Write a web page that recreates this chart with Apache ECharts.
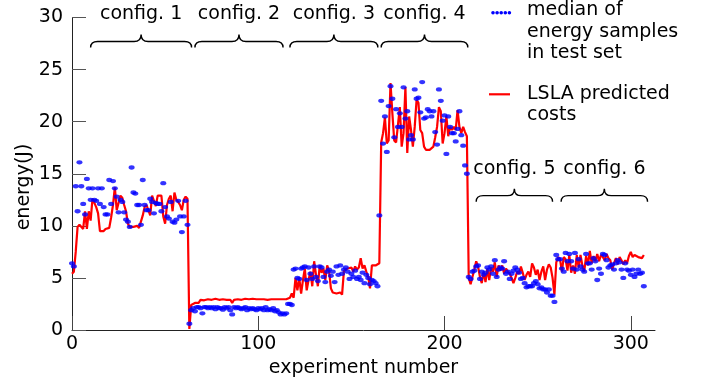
<!DOCTYPE html>
<html>
<head>
<meta charset="utf-8">
<script src="https://cdn.jsdelivr.net/npm/echarts@6/dist/echarts.min.js"></script>
<style>html,body{margin:0;padding:0;background:#fff}#c{width:702px;height:380px}</style>
</head>
<body>
<div id="c"></div>
<script>
// ---- data ----
const configLabels = ['config. 1', 'config. 2', 'config. 3', 'config. 4', 'config. 5', 'config. 6'];
const configStartIndex = [0, 64, 119, 166, 213, 260];
const braceStart = [10, 66, 117, 166, 217, 262.6];
const braceEnd = [64.2, 113.3, 164.2, 212.5, 258, 309];
const braceLevel = [27.7, 27.7, 27.7, 27.7, 12.9, 12.9];

const predictedCfg1 = [5.4,5.6,7.5,9.9,10.1,10.0,9.7,11.4,9.7,11.4,10.5,12.6,12.5,11.8,11.2,9.5,9.6,9.5,9.7,9.6,9.8,10.8,12.0,13.7,11.5,12.2,12.9,12.7,12.0,11.4,10.2,9.9,9.9,9.9,9.8,10.0,9.8,9.7,11.0,11.8,12.0,11.5,11.0,12.9,12.4,11.9,12.9,12.8,12.9,10.9,10.2,12.0,12.6,12.9,11.4,13.2,12.5,12.3,12.0,11.5,12.5,12.8,12.6,0.1];
const predictedCfg2 = [2.4,2.5,2.6,2.7,2.6,2.9,2.9,2.85,2.9,2.95,2.9,2.9,2.95,3.0,2.95,2.9,2.95,2.95,2.9,2.9,2.95,2.9,2.6,2.9,2.95,2.95,2.95,2.9,2.95,3.0,2.95,2.95,2.9,3.0,2.95,2.95,3.0,2.95,2.95,2.95,2.95,2.9,2.95,2.95,2.95,2.95,2.95,2.95,2.9,2.95,2.95,2.95,3.0,3.1,3.5];
const predictedCfg3 = [3.1,5.0,3.8,5.0,3.5,4.8,5.9,3.8,4.8,5.6,4.2,6.6,5.3,4.2,6.2,5.5,5.9,4.8,6.2,5.7,4.0,3.6,3.5,3.5,3.5,3.6,3.4,5.7,5.6,5.9,5.8,6.0,5.6,6.1,5.8,6.0,6.9,5.9,6.2,5.6,5.1,4.0,6.2,6.1,6.2,6.3,6.4];
const predictedCfg4 = [18.0,18.9,20.4,17.9,18.2,23.7,20.8,18.2,18.0,17.9,21.4,17.6,18.9,23.3,17.0,20.5,19.2,17.6,19.5,22.1,21.8,19.2,18.9,17.6,17.3,17.2,17.3,17.4,17.6,18.5,19.5,21.4,21.0,17.9,18.9,20.5,18.6,19.5,19.2,19.5,19.2,21.1,19.5,18.9,19.5,19.0,18.6];
const predictedCfg5 = [5.0,4.4,4.5,5.8,6.6,6.1,5.1,4.5,5.6,4.6,5.9,4.8,6.0,5.6,6.5,5.1,6.2,5.7,6.2,5.4,5.9,5.6,5.4,5.0,4.5,5.0,5.6,5.4,6.1,5.5,4.8,5.3,5.6,5.1,6.4,6.0,5.3,5.8,4.8,5.6,6.1,4.8,5.8,6.3,6.0,5.0,3.4];
const predictedCfg6 = [6.5,7.0,6.8,5.6,7.0,6.8,5.7,7.2,5.5,6.2,5.4,7.2,6.0,7.2,6.2,5.6,7.1,6.2,7.6,6.4,7.1,6.6,7.3,6.6,7.2,7.0,6.7,7.3,6.9,6.7,5.8,6.4,6.9,6.3,7.0,6.7,6.3,6.7,6.4,7.1,7.5,7.0,7.2,7.3,7.0,7.1,6.9,7.2];

const medianCfg1 = [6.4,6.1,13.8,11.4,16.1,13.8,12.1,11.1,14.5,13.6,12.5,13.6,12.5,12.4,13.6,12.1,13.6,11.8,11.1,11.1,14.4,12.1,14.3,13.6,12.8,11.3,12.5,12.3,11.3,10.6,10.4,9.9,15.6,13.2,13.1,12.0,12.0,10.1,14.4,12.0,11.5,11.5,12.6,12.3,11.2,12.2,12.1,12.1,11.4,14.1,11.8,10.9,10.7,12.3,10.4,10.3,10.6,12.4,10.9,9.4,10.9,12.4,10.1,0.6];
const medianCfg2 = [1.9,2.1,1.8,2.2,2.2,2.1,1.6,2.2,2.2,2.1,2.2,2.1,2.2,2.0,2.2,2.1,2.1,1.95,2.2,2.1,2.2,1.9,1.5,2.2,2.1,2.2,2.1,2.0,2.1,2.2,1.9,2.1,2.0,2.1,2.0,1.9,2.1,2.0,2.1,1.9,2.2,1.9,2.0,1.9,2.1,1.8,1.9,1.7,1.5,1.6,1.5,1.6,2.5,2.5,2.4];
const medianCfg3 = [5.8,5.9,5.0,4.9,5.9,6.0,6.1,4.8,6.0,5.4,4.9,6.1,5.1,4.7,6.1,6.0,5.1,4.6,5.6,5.8,5.2,5.6,4.6,6.1,5.3,6.2,5.4,5.8,6.0,5.6,4.9,5.4,5.1,5.7,4.9,5.1,4.8,5.5,4.5,5.3,5.0,4.4,4.8,4.7,4.5,4.2,11.0];
const medianCfg4 = [22.0,17.9,20.5,17.1,21.5,23.4,22.2,18.5,21.2,19.5,20.8,19.5,23.3,20.3,21.0,18.3,18.7,18.3,23.1,22.2,22.3,20.9,23.8,20.3,20.4,21.2,21.0,20.5,21.0,19.0,17.8,23.1,22.0,20.1,20.6,16.9,20.5,19.5,18.9,18.9,18.1,19.3,21.0,18.7,17.7,15.8,15.0];
const medianCfg5 = [5.1,4.9,5.6,5.7,6.1,6.2,4.9,5.6,5.3,5.5,6.0,5.8,6.1,5.4,6.7,5.1,5.8,6.0,5.9,6.6,5.4,5.6,4.9,5.4,5.7,6.0,5.8,5.5,4.9,5.0,4.5,4.1,4.2,4.2,4.2,4.5,4.7,4.4,4.0,4.1,3.9,3.9,3.6,3.9,3.3,3.3,2.7];
const medianCfg6 = [7.2,6.8,6.8,5.9,5.6,7.4,6.6,7.3,6.6,5.9,7.4,5.8,6.8,6.1,5.8,5.6,7.3,6.4,6.4,5.8,6.9,6.6,4.8,5.9,5.4,7.3,7.2,6.7,6.0,6.2,6.3,5.8,6.4,6.7,6.5,5.8,5.0,6.4,5.8,5.7,5.3,5.8,5.1,5.4,5.8,5.4,5.5,4.2];

const xTickValues = [0, 100, 200, 300];
const yTickValues = [0, 5, 10, 15, 20, 25, 30];

// ---- build ----
const predictedGroups = [predictedCfg1, predictedCfg2, predictedCfg3, predictedCfg4, predictedCfg5, predictedCfg6];
const medianGroups = [medianCfg1, medianCfg2, medianCfg3, medianCfg4, medianCfg5, medianCfg6];
function toPairs(groups) {
  const out = [];
  groups.forEach((g, k) => g.forEach((v, i) => out.push([configStartIndex[k] + i, v])));
  return out;
}
const predictedData = toPairs(predictedGroups);
const medianData = toPairs(medianGroups);
const braceData = braceStart.map((s, i) => [s, braceEnd[i], braceLevel[i]]);

const FONT = 'DejaVu Sans';
const chart = echarts.init(document.getElementById('c'), null, {renderer: 'canvas'});
chart.setOption({
  animation: false,
  backgroundColor: '#fff',
  grid: {left: 72, right: 47, top: 17.5, bottom: 50, containLabel: false, outerBoundsMode: 'none'},
  xAxis: {
    type: 'value', min: 0, max: 313, interval: 100,
    name: 'experiment number', nameLocation: 'middle', nameGap: 25,
    nameTextStyle: {fontFamily: FONT, fontSize: 19, color: '#000'},
    axisLine: {show: true, onZero: false, lineStyle: {color: '#222', width: 1}},
    axisTick: {show: true, inside: true, length: 14, lineStyle: {color: '#444', width: 1}, customValues: xTickValues},
    axisLabel: {fontFamily: FONT, fontSize: 19, color: '#000', margin: 5, customValues: xTickValues},
    splitLine: {show: false}
  },
  yAxis: {
    type: 'value', min: 0, max: 30, interval: 5,
    axisLine: {show: true, onZero: false, lineStyle: {color: '#222', width: 1}},
    axisTick: {show: true, inside: true, length: 14, lineStyle: {color: '#555', width: 1}, customValues: yTickValues},
    axisLabel: {fontFamily: FONT, fontSize: 19, color: '#000', margin: 9, customValues: yTickValues},
    splitLine: {show: false}
  },
  graphic: [
    {type: 'text', x: 24, y: 187, rotation: Math.PI / 2,
     style: {text: 'energy(J)', font: '19px "DejaVu Sans"', fill: '#000', align: 'center', verticalAlign: 'middle'}},
    {type: 'group', children: [0, 1, 2, 3, 4].map(i => ({
      type: 'circle', shape: {cx: 493 + i * 4.1, cy: 12.7, r: 1.8}, style: {fill: '#0000ff'}
    }))},
    {type: 'line', shape: {x1: 489, y1: 94.3, x2: 510, y2: 94.3}, style: {stroke: '#ff0000', lineWidth: 2.2}},
    {type: 'text', x: 527, y: 10.5, style: {text: 'median of', font: '19px "DejaVu Sans"', fill: '#000', verticalAlign: 'middle'}},
    {type: 'text', x: 527, y: 32, style: {text: 'energy samples', font: '19px "DejaVu Sans"', fill: '#000', verticalAlign: 'middle'}},
    {type: 'text', x: 527, y: 53.5, style: {text: 'in test set', font: '19px "DejaVu Sans"', fill: '#000', verticalAlign: 'middle'}},
    {type: 'text', x: 527, y: 94, style: {text: 'LSLA predicted', font: '19px "DejaVu Sans"', fill: '#000', verticalAlign: 'middle'}},
    {type: 'text', x: 527, y: 115, style: {text: 'costs', font: '19px "DejaVu Sans"', fill: '#000', verticalAlign: 'middle'}}
  ],
  series: [
    {
      name: 'LSLA predicted costs', type: 'line', data: predictedData,
      showSymbol: false, symbol: 'none', clip: false,
      lineStyle: {color: '#ff0000', width: 2.2}, z: 2
    },
    {
      name: 'median of energy samples in test set', type: 'scatter', data: medianData,
      symbol: 'circle', symbolSize: [6, 4.3],
      itemStyle: {color: '#0000ff'}, z: 3
    },
    {
      type: 'custom', data: braceData, clip: false, z: 4,
      renderItem: function (params, api) {
        const s = api.coord([api.value(0), api.value(2)]);
        const e = api.coord([api.value(1), api.value(2)]);
        const y = s[1], x0 = s[0], x1 = e[0], xm = (x0 + x1) / 2;
        const h = 6, r = 7, tip = 7;
        const d = 'M' + x0 + ' ' + (y + h) + ' Q' + x0 + ' ' + y + ' ' + (x0 + r) + ' ' + y +
          ' L' + (xm - r) + ' ' + y + ' Q' + xm + ' ' + y + ' ' + xm + ' ' + (y - tip) +
          ' Q' + xm + ' ' + y + ' ' + (xm + r) + ' ' + y +
          ' L' + (x1 - r) + ' ' + y + ' Q' + x1 + ' ' + y + ' ' + x1 + ' ' + (y + h);
        return {
          type: 'group',
          children: [
            {type: 'path', shape: {pathData: d}, style: {fill: 'none', stroke: '#000', lineWidth: 1.4}},
            {type: 'text', style: {text: configLabels[params.dataIndex], x: xm, y: y - 27,
              align: 'center', verticalAlign: 'middle', font: '19px "DejaVu Sans"', fill: '#000'}}
          ]
        };
      }
    }
  ]
});
</script>
</body>
</html>
